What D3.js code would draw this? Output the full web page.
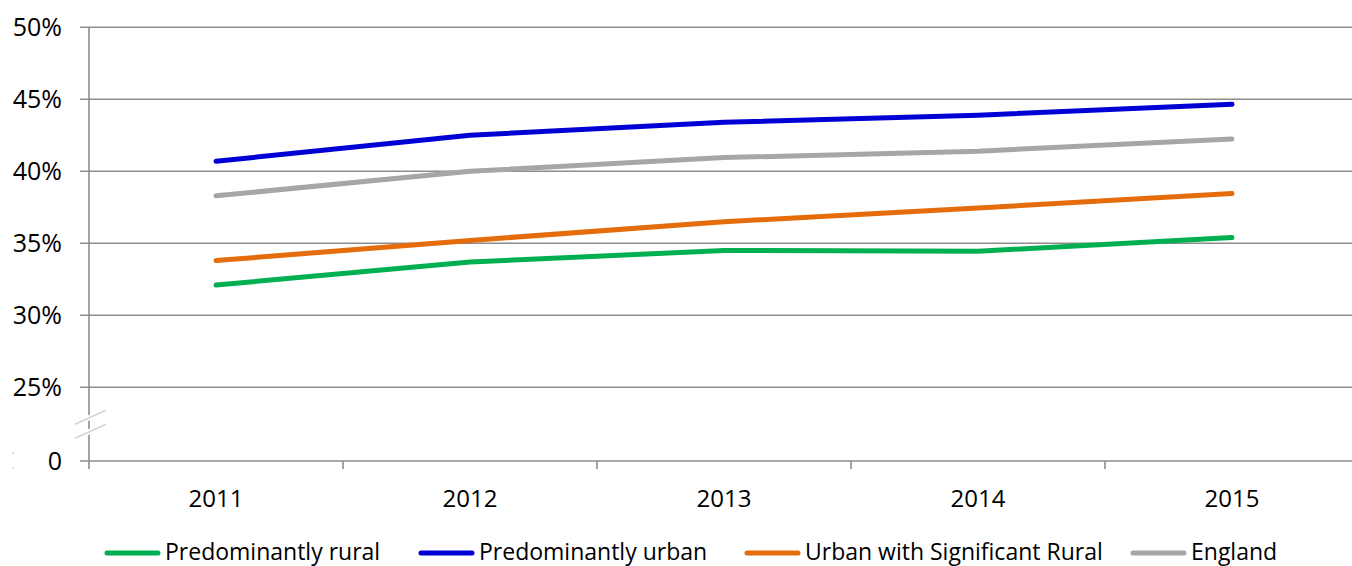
<!DOCTYPE html>
<html>
<head>
<meta charset="utf-8">
<script src="https://cdn.jsdelivr.net/npm/d3@7"></script>
<style>
  html, body { margin: 0; padding: 0; background: #fff; }
  svg { display: block; font-family: "Open Sans", sans-serif; }
</style>
</head>
<body>
<svg id="chart" width="1352" height="566"></svg>
<script>
// ---- data ----
const years = ["2011", "2012", "2013", "2014", "2015"];
const predominantlyRural = [32.1, 33.7, 34.5, 34.45, 35.4];
const predominantlyUrban = [40.7, 42.5, 43.4, 43.9, 44.65];
const urbanSignificantRural = [33.8, 35.2, 36.5, 37.45, 38.45];
const england = [38.3, 40.0, 40.95, 41.4, 42.25];
const seriesNames = ["Predominantly rural", "Predominantly urban", "Urban with Significant Rural", "England"];
const seriesColors = ["#00B050", "#0000D4", "#E46C0A", "#A6A6A6"];
const yTickValues = [0, 25, 30, 35, 40, 45, 50];
const yTickLabels = ["0", "25%", "30%", "35%", "40%", "45%", "50%"];

const seriesValues = [predominantlyRural, predominantlyUrban, urbanSignificantRural, england];

// ---- layout ----
const svg = d3.select("#chart");
const plotLeft = 89, plotRight = 1359, plotTop = 27.3, plotBottom = 461;

const x = d3.scaleBand().domain(years).range([plotLeft, plotRight]).padding(0);
// broken axis: 0 -> 25 compressed, 25 -> 50 linear
const y = d3.scaleLinear().domain([0, 25, 50]).range([plotBottom, 387.3, plotTop]);

const gridColor = "#8C8C8C";

// horizontal gridlines + y ticks
svg.append("g").selectAll("line")
  .data(yTickValues)
  .join("line")
  .attr("x1", plotLeft - 9)
  .attr("x2", plotRight)
  .attr("y1", d => y(d))
  .attr("y2", d => y(d))
  .attr("stroke", gridColor)
  .attr("stroke-width", 1.6);

// y axis line
svg.append("line")
  .attr("x1", plotLeft).attr("x2", plotLeft)
  .attr("y1", plotTop).attr("y2", plotBottom + 8)
  .attr("stroke", gridColor).attr("stroke-width", 1.6);

// x axis ticks at band boundaries
svg.append("g").selectAll("line")
  .data(years.slice(1))
  .join("line")
  .attr("x1", d => x(d)).attr("x2", d => x(d))
  .attr("y1", plotBottom).attr("y2", plotBottom + 8)
  .attr("stroke", gridColor).attr("stroke-width", 1.6);

// axis break marks
const breakVal = 12.5;
const by = y(breakVal);
[-7, 7].forEach(off => {
  svg.append("line")
    .attr("x1", plotLeft - 14).attr("y1", by + off + 7)
    .attr("x2", plotLeft + 17).attr("y2", by + off - 7)
    .attr("stroke", "#fff").attr("stroke-width", 5);
});
[-7, 7].forEach(off => {
  svg.append("line")
    .attr("x1", plotLeft - 14).attr("y1", by + off + 7)
    .attr("x2", plotLeft + 17).attr("y2", by + off - 7)
    .attr("stroke", "#D4D4D4").attr("stroke-width", 1.6);
});

// tiny specks at far left
svg.append("rect").attr("x", 12.5).attr("y", by + 28).attr("width", 1.2).attr("height", 2).attr("fill", "#C8C8C8");
svg.append("rect").attr("x", 12.5).attr("y", by + 43).attr("width", 1.2).attr("height", 2).attr("fill", "#C8C8C8");

// y tick labels
svg.append("g").selectAll("text")
  .data(yTickValues)
  .join("text")
  .attr("x", 62)
  .attr("y", d => y(d))
  .attr("dy", "0.35em")
  .attr("text-anchor", "end")
  .attr("font-size", 25)
  .attr("fill", "#000")
  .text((d, i) => yTickLabels[i]);

// x tick labels
svg.append("g").selectAll("text")
  .data(years)
  .join("text")
  .attr("x", d => x(d) + x.bandwidth() / 2)
  .attr("y", 506.5)
  .attr("text-anchor", "middle")
  .attr("font-size", 24)
  .attr("fill", "#000")
  .text(d => d);

// series lines
const line = d3.line()
  .x((d, i) => x(years[i]) + x.bandwidth() / 2)
  .y(d => y(d));

svg.append("g").selectAll("path")
  .data(seriesValues)
  .join("path")
  .attr("d", d => line(d))
  .attr("fill", "none")
  .attr("stroke", (d, i) => seriesColors[i])
  .attr("stroke-width", 5)
  .attr("stroke-linecap", "round")
  .attr("stroke-linejoin", "round");

// legend
const legendX = [105, 419, 745, 1131];
const legend = svg.append("g").selectAll("g")
  .data(seriesNames)
  .join("g")
  .attr("transform", (d, i) => `translate(${legendX[i]},553)`);
legend.append("line")
  .attr("x1", 2).attr("x2", 53)
  .attr("y1", 0).attr("y2", 0)
  .attr("stroke", (d, i) => seriesColors[i])
  .attr("stroke-width", 5)
  .attr("stroke-linecap", "round");
legend.append("text")
  .attr("x", 60)
  .attr("y", 7)
  .attr("font-size", 23)
  .attr("fill", "#000")
  .text(d => d);
</script>
</body>
</html>
